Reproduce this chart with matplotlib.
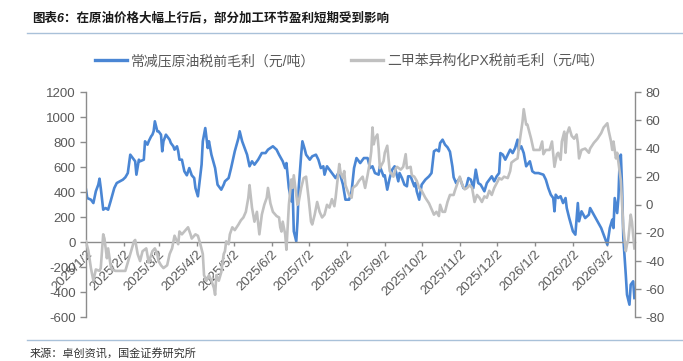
import numpy as np
import pandas as pd
import matplotlib
matplotlib.use("Agg")
import matplotlib.pyplot as plt
import matplotlib.dates as mdates
from matplotlib.ticker import FuncFormatter

plt.rcParams["font.family"] = ["Liberation Sans", "Noto Sans CJK SC", "DejaVu Sans"]
plt.rcParams["axes.unicode_minus"] = False

START = pd.Timestamp("2025-01-02")

# 常减压原油税前毛利 (left axis): day offset from START, value
blue_day = [0, 1, 4, 6, 8, 10, 11, 12, 14, 16, 18, 20, 23, 25, 30, 32, 34, 36, 38, 40,
            41, 43, 44, 47, 48, 50, 51, 53, 54, 55, 56, 58, 59, 61, 62, 63, 65, 68, 69, 71,
            72, 74, 75, 76, 78, 80, 82, 84, 86, 88, 89, 91, 94, 95, 97, 99, 100, 102, 105, 107,
            110, 112, 113, 116, 118, 121, 124, 125, 127, 129, 131, 133, 135, 137, 140, 143, 146, 148, 152, 155,
            157, 160, 162, 163, 165, 167, 168, 169, 171, 172, 173, 175, 176, 178, 179, 182, 184, 187, 189, 191,
            193, 194, 196, 198, 201, 203, 206, 209, 211, 214, 216, 218, 220, 223, 226, 229, 231, 233, 235, 238,
            239, 242, 243, 245, 247, 249, 251, 252, 254, 255, 257, 259, 261, 262, 264, 267, 268, 269, 271, 273,
            276, 279, 281, 283, 285, 287, 288, 290, 292, 294, 296, 298, 299, 301, 304, 307, 309, 311, 313, 315,
            317, 319, 321, 324, 326, 328, 330, 332, 334, 336, 337, 339, 341, 343, 345, 347, 349, 351, 352, 354,
            356, 358, 361, 363, 365, 368, 372, 374, 376, 378, 380, 381, 382, 384, 386, 388, 390, 391, 393, 396,
            398, 400, 401, 403, 406, 409, 410, 413, 416, 419, 421, 424, 426, 428, 429, 430, 432, 433, 434, 435,
            436, 437, 439, 440, 442, 443, 445, 446]
blue_val = [421, 354, 341, 314, 408, 461, 509, 434, 261, 274, 261, 328, 434, 474, 501, 520, 554, 701, 674, 648,
            541, 661, 648, 661, 808, 781, 808, 848, 861, 888, 968, 888, 888, 861, 728, 808, 861, 821, 794, 768,
            741, 768, 728, 661, 661, 568, 536, 594, 536, 514, 434, 368, 621, 808, 914, 754, 808, 701, 594, 461,
            421, 461, 488, 514, 594, 728, 834, 888, 808, 754, 701, 608, 648, 621, 661, 714, 714, 741, 768, 741,
            701, 648, 594, 634, 434, 328, 434, 88, 8, 168, 434, 701, 808, 741, 701, 661, 688, 701, 661, 594,
            608, 541, 608, 581, 541, 514, 568, 461, 341, 341, 408, 594, 674, 634, 674, 674, 594, 608, 554, 541,
            608, 528, 536, 421, 514, 581, 608, 568, 488, 554, 514, 461, 448, 528, 528, 448, 474, 408, 341, 461,
            501, 528, 554, 728, 741, 728, 794, 821, 781, 760, 725, 605, 520, 474, 514, 434, 434, 514, 501, 434,
            581, 474, 461, 408, 474, 501, 528, 488, 528, 554, 714, 701, 661, 701, 741, 714, 754, 821, 741, 768,
            714, 608, 648, 568, 554, 554, 541, 501, 434, 381, 354, 248, 381, 354, 368, 314, 354, 274, 194, 88,
            61, 314, 168, 248, 194, 221, 274, 221, 168, 114, 61, -19, 114, 181, 114, 354, 234, 354, 648, 701,
            434, 34, -259, -419, -499, -339, -312, -446]

# 二甲苯异构化PX税前毛利 (right axis)
gray_day = [0, 2, 4, 6, 8, 11, 12, 14, 15, 17, 18, 20, 21, 24, 28, 32, 36, 39, 40, 42,
            44, 46, 49, 51, 54, 56, 58, 59, 61, 63, 66, 68, 70, 72, 75, 76, 78, 81, 83, 85,
            86, 89, 91, 93, 95, 96, 98, 100, 102, 104, 105, 106, 108, 110, 112, 113, 114, 116, 117, 119,
            121, 124, 126, 128, 130, 132, 133, 135, 137, 139, 141, 143, 145, 147, 148, 150, 152, 155, 157, 158,
            159, 160, 162, 163, 164, 165, 167, 168, 169, 171, 172, 173, 175, 177, 179, 181, 183, 184, 186, 188,
            190, 192, 194, 196, 198, 200, 202, 203, 206, 207, 209, 210, 211, 214, 216, 217, 220, 222, 225, 227,
            229, 231, 232, 233, 234, 235, 237, 238, 239, 242, 243, 245, 246, 247, 250, 252, 253, 256, 258, 260,
            261, 264, 265, 267, 269, 271, 273, 276, 279, 281, 283, 285, 287, 288, 290, 292, 294, 296, 299, 300,
            302, 304, 306, 308, 310, 312, 314, 316, 318, 320, 322, 324, 326, 328, 330, 332, 335, 336, 338, 340,
            343, 345, 346, 349, 351, 353, 355, 356, 358, 359, 362, 364, 366, 369, 371, 372, 374, 377, 379, 381,
            383, 384, 386, 387, 389, 390, 391, 393, 395, 397, 399, 400, 401, 403, 406, 409, 410, 413, 416, 419,
            421, 424, 425, 427, 428, 429, 431, 432, 434, 435, 436, 437, 439, 440, 441, 443, 444, 446]
gray_val = [-26, -33, -45, -54, -46, -47, -45, -21, -24, -38, -31, -43, -46, -47, -47, -47, -35, -26, -25, -35,
            -40, -33, -31, -41, -33, -31, -35, -40, -43, -45, -43, -35, -31, -22, -28, -19, -21, -18, -16, -21,
            -24, -21, -22, -28, -35, -50, -54, -50, -54, -59, -64, -50, -54, -48, -35, -33, -26, -28, -21, -16,
            -18, -14, -11, -9, -5, 5, 14, -2, -12, -5, -21, -7, 0, 5, 12, 1, -5, -8, -9, -16,
            -19, -12, -21, -32, -16, 0, 18, 12, 21, 7, 0, 2, 12, 19, 20, 5, -12, -14, -7, 2,
            -5, -9, -7, 0, -2, 4, -1, 5, 29, 23, 19, 24, 14, 7, 5, 12, 14, 17, 20, 12,
            21, 31, 38, 55, 43, 47, 50, 40, 26, 31, 37, 42, 33, 24, 20, 26, 27, 25, 27, 36,
            26, 27, 21, 20, 17, 12, 10, 5, 1, -3, -7, -5, -8, 0, -5, -5, 2, 7, 7, 10,
            15, 20, 14, 11, 12, 14, 12, 2, 7, 5, 2, 6, 5, 10, 7, 12, 17, 19, 18, 20,
            19, 24, 30, 32, 33, 47, 59, 68, 57, 57, 47, 39, 39, 39, 45, 36, 39, 39, 45, 27,
            36, 37, 32, 45, 52, 37, 50, 55, 49, 47, 50, 44, 33, 39, 40, 37, 40, 44, 47, 51,
            55, 58, 53, 45, 39, 45, 33, 37, 24, 17, 0, -16, -33, -28, -25, -7, -12, -31]

BLUE = "#4a86d4"
GRAY = "#c0c0c0"
AXC = "#8c8c8c"
TXT = "#595959"

blue_x = START + pd.to_timedelta(blue_day, unit="D")
gray_x = START + pd.to_timedelta(gray_day, unit="D")

fig = plt.figure(figsize=(6.83, 3.61), dpi=100)
ax = fig.add_axes([86 / 683, 1 - 317.3 / 361, (635 - 86) / 683, (317.3 - 92.3) / 361])
ax2 = ax.twinx()

ax.plot(blue_x, blue_val, color=BLUE, lw=1.9, solid_joinstyle="round", label="常减压原油税前毛利（元/吨）")
ax2.plot(gray_x, gray_val, color=GRAY, lw=1.9, solid_joinstyle="round", label="二甲苯异构化PX税前毛利（元/吨）")

ax.set_xlim(START, START + pd.Timedelta(days=446.5))
ax.set_ylim(-600, 1200)
ax.set_yticks(np.arange(-600, 1201, 200))
ax2.set_ylim(-80, 80)
ax2.set_yticks(np.arange(-80, 81, 20))

for a in (ax, ax2):
    a.spines["top"].set_visible(False)
    for s in a.spines.values():
        s.set_color(AXC)
        s.set_linewidth(1.0)
    a.tick_params(colors=AXC, labelcolor=TXT, labelsize=9.5, length=4, width=1.0)
ax2.spines["bottom"].set_visible(False)
ax2.spines["left"].set_visible(False)
ax.spines["right"].set_visible(False)
ax.spines["bottom"].set_position(("data", 0))

ax.xaxis.set_major_locator(mdates.MonthLocator(bymonthday=2))
ax.xaxis.set_major_formatter(FuncFormatter(
    lambda v, p: "{0}/{1}/{2}".format(mdates.num2date(v).year, mdates.num2date(v).month, mdates.num2date(v).day)))
ax.tick_params(axis="x", length=3, pad=1)
for lab in ax.get_xticklabels():
    lab.set_rotation(45)
    lab.set_ha("right")
    lab.set_va("top")
    lab.set_rotation_mode("anchor")

h1, l1 = ax.get_legend_handles_labels()
h2, l2 = ax2.get_legend_handles_labels()
leg = fig.legend(h1 + h2, l1 + l2, loc="center left", bbox_to_anchor=(95 / 683, 1 - 61 / 361),
                 ncol=2, frameon=False, fontsize=10, handlelength=2.3, handletextpad=0.3,
                 columnspacing=2.6, borderaxespad=0, borderpad=0)
for t in leg.get_texts():
    t.set_color(TXT)
for ln in leg.get_lines():
    ln.set_linewidth(2.4)

fig.text(32 / 683, 1 - 18 / 361, "图表6：在原油价格大幅上行后，部分加工环节盈利短期受到影响",
         fontsize=9.0, fontweight="bold", style="italic", color="#1a1a1a", va="center", ha="left")
fig.add_artist(plt.Line2D([27 / 683, 1], [1 - 33 / 361] * 2, color="#a9c1d9", lw=1.0))
fig.add_artist(plt.Line2D([27 / 683, 1], [1 - 340 / 361] * 2, color="#a9c1d9", lw=1.0))
fig.text(30 / 683, 1 - 354 / 361, "来源：卓创资讯，国金证券研究所", fontsize=8, color="#333333",
         va="center", ha="left")

fig.savefig("out.png", dpi=100)
